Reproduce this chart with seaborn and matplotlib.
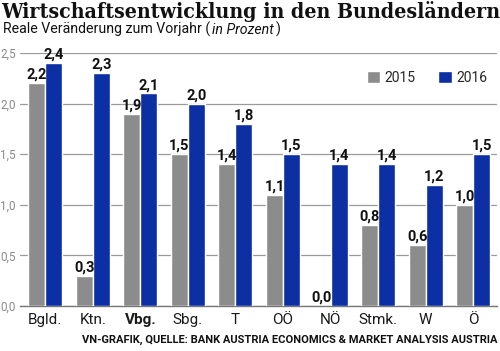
import numpy as np
import pandas as pd
import matplotlib
matplotlib.use('Agg')
import matplotlib.pyplot as plt
from matplotlib import font_manager
import seaborn as sns

# data
states = ['Bgld.', 'Ktn.', 'Vbg.', 'Sbg.', 'T', 'OÖ', 'NÖ', 'Stmk.', 'W', 'Ö']
growth_2015 = [2.2, 0.3, 1.9, 1.5, 1.4, 1.1, 0.0, 0.8, 0.6, 1.0]
growth_2016 = [2.4, 2.3, 2.1, 2.0, 1.8, 1.5, 1.4, 1.4, 1.2, 1.5]
years = ['2015', '2016']
yticks = [0.0, 0.5, 1.0, 1.5, 2.0, 2.5]

title = 'Wirtschaftsentwicklung in den Bundesländern'
subtitle = 'Reale Veränderung zum Vorjahr ('
subtitle_it = 'in Prozent'
source = 'VN-GRAFIK, QUELLE: BANK AUSTRIA ECONOMICS & MARKET ANALYSIS AUSTRIA'

grey = '#8c8c8c'
blue = '#0c2fa3'

df = pd.DataFrame({
    'state': states * 2,
    'year': [years[0]] * len(states) + [years[1]] * len(states),
    'value': growth_2015 + growth_2016,
})

sns.set_style('white')
plt.rcParams['font.family'] = ['Roboto', 'DejaVu Sans']

# condensed bold serif for the headline if it is there
cond = [f for f in font_manager.fontManager.ttflist
        if f.name == 'DejaVu Serif' and 'ondensed' in f.fname and f.weight in ('bold', 700)]
if cond:
    title_font = font_manager.FontProperties(fname=cond[0].fname, size=15.3)
else:
    title_font = font_manager.FontProperties(family='DejaVu Serif', weight='bold', size=13.6)

fig = plt.figure(figsize=(5, 3.51), dpi=100)
ax = fig.add_axes([0.04, 0.128, 0.954, 0.721])

sns.barplot(data=df, x='state', y='value', hue='year', order=states,
            palette=[grey, blue], saturation=1, width=0.714, gap=0,
            errorbar=None, ax=ax, zorder=3)

ax.set_xlim(-0.53, 9.5)
ax.set_ylim(0, 2.5)
ax.set_yticks(yticks)
ax.set_yticklabels([f'{v:.1f}'.replace('.', ',') for v in yticks],
                   color='#8a8a8a', fontsize=8.5)
ax.tick_params(axis='y', length=0, pad=3)
ax.tick_params(axis='x', length=0, pad=5)
ax.set_xticks(range(len(states)))
ax.set_xticklabels(states, fontsize=11, color='#1a1a1a')
for lab in ax.get_xticklabels():
    if lab.get_text() == 'Vbg.':
        lab.set_fontweight('bold')
ax.set_xlabel('')
ax.set_ylabel('')
ax.yaxis.grid(True, color='#9a9a9a', linewidth=0.9, zorder=0)
ax.set_axisbelow(True)
for s in ['top', 'right', 'left']:
    ax.spines[s].set_visible(False)
ax.spines['bottom'].set_color('#777777')
ax.spines['bottom'].set_linewidth(1.0)

# value labels
for cont in ax.containers:
    labels = [f'{b.get_height():.1f}'.replace('.', ',') for b in cont]
    lbls = ax.bar_label(cont, labels=labels, padding=1, fontsize=10.5,
                        fontweight='bold', color='#111111')
    for t in lbls:
        t.set_clip_on(False)

handles, _ = ax.get_legend_handles_labels()
ax.legend(handles, years, loc='upper right', bbox_to_anchor=(1.005, 0.98),
          ncol=2, frameon=False, fontsize=10, handlelength=1.0,
          handleheight=1.0, handletextpad=0.3, columnspacing=1.6)

fig.text(0.002, 0.998, title, fontproperties=title_font,
         va='top', ha='left', color='#111111')
sub = fig.text(0.006, 0.903, subtitle, fontsize=10.2, va='baseline',
               ha='left', color='#111111')
fig.canvas.draw()
bb = sub.get_window_extent()
sub2 = fig.text(bb.x1 / fig.bbox.width + 0.003, 0.903, subtitle_it, fontsize=10.2,
                style='italic', color='#111111', va='baseline', ha='left')
fig.canvas.draw()
bb2 = sub2.get_window_extent()
fig.text(bb2.x1 / fig.bbox.width + 0.005, 0.903, ')', fontsize=10.2,
         va='baseline', ha='left', color='#111111')

fig.text(0.994, 0.018, source, fontsize=8, fontweight='bold', ha='right',
         va='bottom', color='#111111')

fig.savefig('out.png', dpi=100)
